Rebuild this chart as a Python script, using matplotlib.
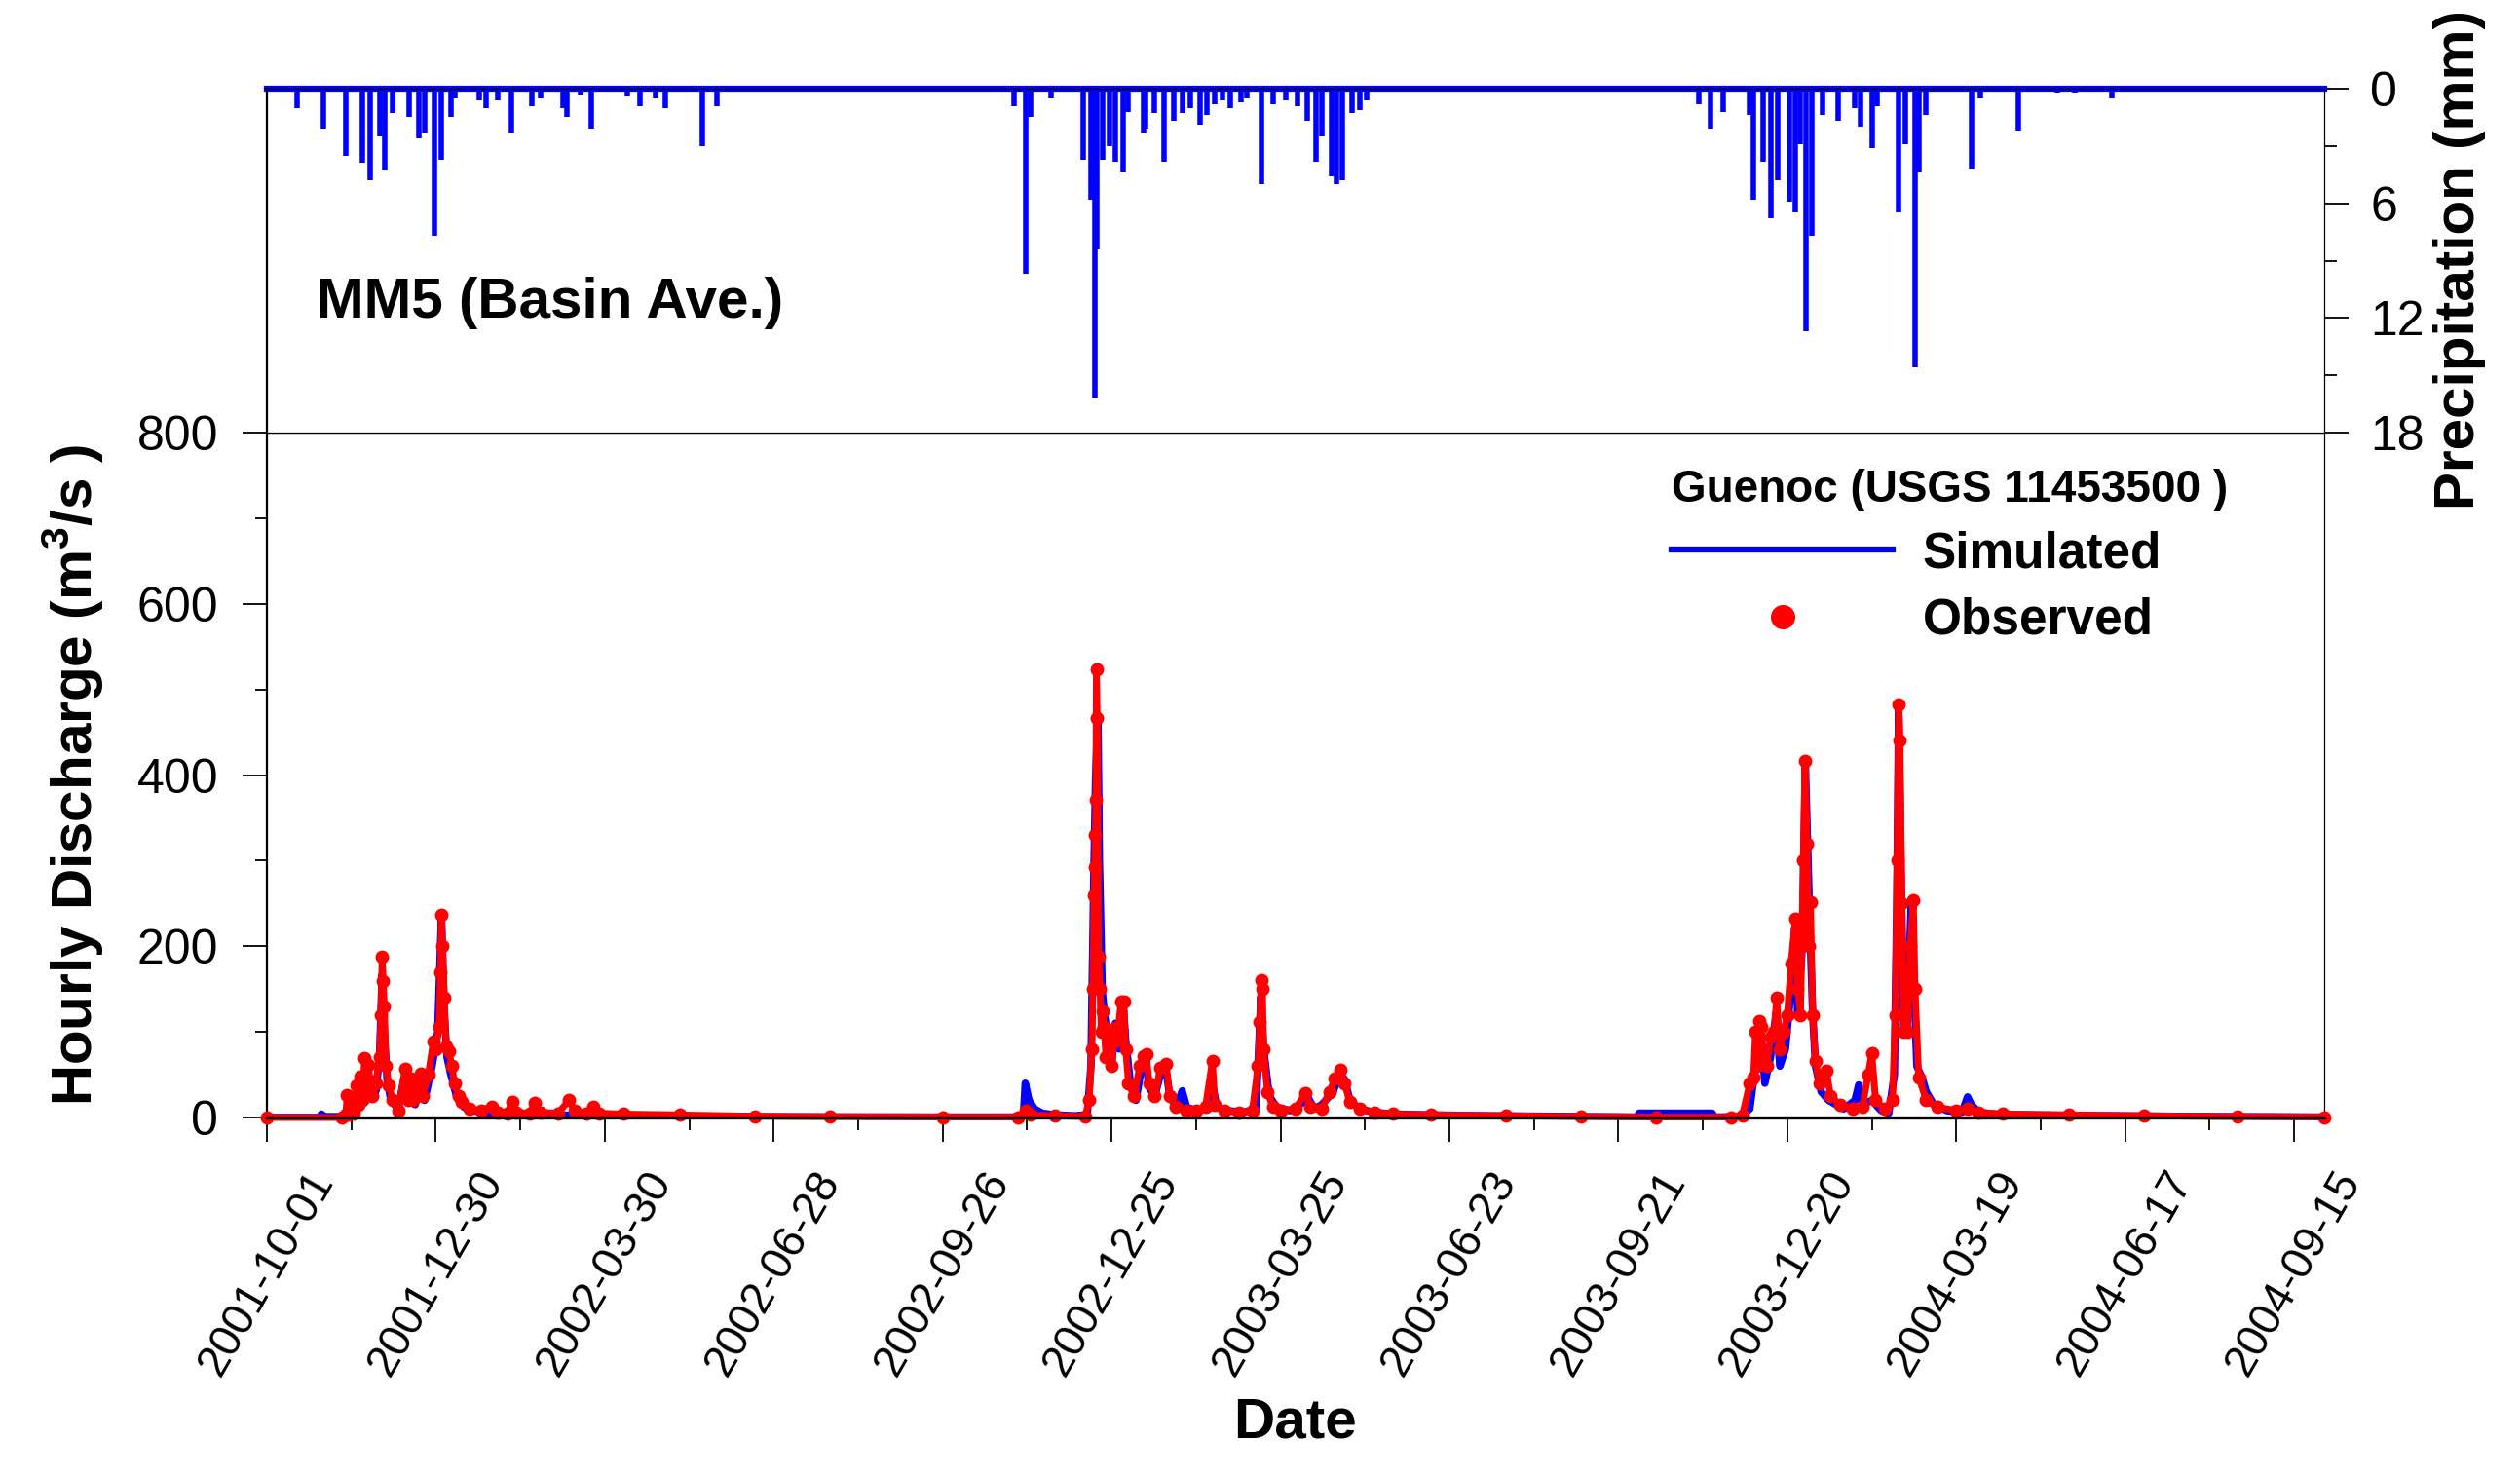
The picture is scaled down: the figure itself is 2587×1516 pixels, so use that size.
import numpy as np
import pandas as pd
import matplotlib
matplotlib.use('Agg')
import matplotlib.pyplot as plt
from matplotlib.lines import Line2D
from matplotlib.ticker import MultipleLocator

plt.rcParams['font.family'] = ['Liberation Sans', 'DejaVu Sans']
plt.rcParams['mathtext.fontset'] = 'custom'
plt.rcParams['mathtext.rm'] = 'Liberation Sans'
plt.rcParams['mathtext.bf'] = 'Liberation Sans:bold'

# Data, days counted from 2001-10-01
start = pd.Timestamp('2001-10-01')
end_day = 1096

date_ticks = ['2001-10-01', '2001-12-30', '2002-03-30', '2002-06-28', '2002-09-26',
              '2002-12-25', '2003-03-25', '2003-06-23', '2003-09-21', '2003-12-20',
              '2004-03-19', '2004-06-17', '2004-09-15']

# basin average MM5 precipitation spikes
precip_day = [16, 30, 42, 51, 55, 60, 63, 67, 76, 81, 84, 89, 93, 98, 100, 113, 117, 123,
              130, 141, 146, 158, 160, 167, 173, 192, 199, 207, 212, 232, 240,
              398, 404, 407, 418, 435, 439, 441, 442, 445, 449, 452, 456, 459, 467, 468,
              473, 478, 483, 488, 492, 497, 501, 505, 509, 513, 519, 522, 530, 536, 543,
              549, 554, 559, 562, 567, 570, 573, 578, 582, 586,
              690, 763, 769, 776, 790, 792, 797, 801, 805, 811, 814, 817, 820, 823, 829,
              837, 846, 849, 855, 858, 869, 873, 878, 880, 884, 908, 913, 933, 954, 963, 983]
precip_mm = [1.0, 2.1, 3.5, 3.9, 4.8, 2.5, 4.3, 1.3, 1.5, 2.6, 2.3, 7.7, 3.7, 1.5, 0.5, 0.6, 1.0, 0.6,
             2.3, 0.9, 0.5, 1.0, 1.5, 0.3, 2.1, 0.4, 0.9, 0.5, 1.0, 3.0, 0.9,
             0.9, 9.7, 1.5, 0.5, 3.7, 5.8, 16.2, 8.4, 3.7, 3.0, 3.8, 4.4, 1.2, 2.3, 2.1,
             1.3, 3.8, 1.7, 1.3, 1.0, 1.9, 1.4, 0.8, 0.6, 1.0, 0.7, 0.5, 5.0, 0.8, 0.6,
             0.9, 1.7, 3.8, 2.5, 4.6, 5.0, 4.8, 1.3, 1.1, 0.6,
             0.1, 0.8, 2.1, 1.2, 1.4, 5.8, 3.8, 6.8, 4.8, 5.9, 6.5, 2.9, 12.7, 7.7, 1.4,
             1.7, 1.0, 2.0, 3.1, 0.9, 6.5, 2.9, 14.6, 4.4, 1.4, 4.2, 0.5, 2.2, 0.2, 0.2, 0.5]

# simulated hourly discharge (m3/s)
sim_day = [0, 28, 29, 31, 40, 43, 46, 50, 53, 56, 58, 60, 61.4, 62.5, 64, 66, 70, 73, 75, 79,
           82, 84, 88, 91, 93, 94.5, 96, 98, 101, 105, 110, 115, 120, 130, 150, 180, 230, 300,
           397, 403, 404, 406, 409, 413, 420, 430, 437, 439, 440.5, 441.5, 442.7, 443.5, 445,
           446, 448, 450, 452, 454, 456, 457.5, 460, 463, 466, 468, 470, 473, 476, 479, 481,
           485, 487.6, 490, 495, 500, 503.7, 506, 512, 520, 527, 529.5, 531, 534, 538, 545,
           555, 558, 562, 568, 571.5, 574, 577, 582, 590, 600, 620, 650, 700, 730,
           731, 770, 771, 785, 790, 793, 796, 798, 801, 804, 806, 809, 812, 814, 815.5, 818,
           819.6, 821, 822, 823.5, 825, 828, 832, 836, 840, 846, 848, 850, 855, 860, 864, 867,
           868.3, 869.3, 870.5, 872, 874, 876, 877.5, 879, 882, 884, 888, 895, 903, 906, 908,
           912, 920, 940, 980, 1040, 1096]
sim_q = [0, 0, 4, 1, 1, 8, 15, 35, 20, 45, 30, 70, 167, 100, 45, 20, 10, 45, 20, 15,
         45, 20, 60, 100, 234, 120, 70, 50, 25, 12, 8, 6, 5, 4, 3, 2, 1, 0.5,
         0.5, 2, 40, 20, 10, 5, 3, 2, 3, 60, 280, 400, 470, 300, 147,
         125, 90, 60, 110, 80, 138, 90, 40, 20, 60, 70, 35, 25, 50, 55, 25,
         15, 31, 12, 8, 10, 40, 12, 8, 6, 10, 141, 80, 25, 12, 8,
         22, 10, 15, 30, 51, 45, 20, 10, 6, 4, 3, 2, 1, 0.5,
         5, 5, 0.5, 1, 10, 60, 100, 40, 70, 122, 60, 80, 150, 222, 120, 200,
         411, 300, 224, 120, 60, 30, 20, 15, 10, 20, 38, 15, 20, 8, 5, 50,
         250, 485, 300, 100, 120, 251, 150, 60, 45, 30, 15, 8, 6, 24, 15,
         6, 4, 3, 2, 1, 0.5]

# observed hourly discharge, USGS 11453500 (m3/s)
obs_day = [0, 40, 42, 42.8, 43.5, 46, 48, 49, 50, 51, 52, 53, 54, 56, 58, 60, 60.8, 61.4, 62,
           62.5, 63.5, 65, 67, 70, 73.6, 75, 77, 78, 81.8, 83, 86, 88.7, 90, 91.7, 92.5, 93,
           93.6, 94.5, 95.5, 97, 98.5, 100, 102, 104, 108, 114, 120, 123, 128, 130.7, 133,
           140, 142.8, 146, 155, 161, 164, 170, 174, 177, 190, 220, 260, 300, 360,
           400, 404, 407, 420, 436, 438, 439.5, 440, 440.6, 441, 441.3, 441.6, 441.9, 442.3,
           443, 443.8, 444.5, 445, 446, 447, 448.5, 450, 452, 453, 455, 456.5, 457.5, 459,
           462, 465, 467, 468.5, 470, 473, 476, 479, 481, 484, 490, 495, 500, 503.7, 505,
           510, 518, 525, 528, 529, 529.7, 530.3, 531, 533, 536, 540, 548, 553, 556, 562,
           566, 569, 571.7, 574, 577, 582, 590, 600, 620, 660, 700, 740,
           780, 786, 790, 792, 793, 794, 795, 796.2, 797, 799, 801, 803, 804.3, 806, 808, 810,
           812, 814.3, 815.5, 817, 818.5, 819.4, 820.5, 821.3, 822.3, 823.5, 825, 827, 830.8,
           833, 838, 845, 850, 853, 855, 857, 862, 866, 867.5, 868.5, 869.3, 870, 871, 872,
           874, 875.5, 877.1, 878, 880, 884, 890, 900, 906, 912, 925, 960, 1000, 1050, 1096]
obs_q = [0, 0, 3, 26, 3, 5, 37, 15, 48, 20, 69, 30, 61, 25, 40, 70, 120, 188, 159,
         130, 60, 37, 20, 8, 57, 20, 45, 20, 51, 25, 50, 89, 80, 106, 170, 237,
         200, 140, 83, 77, 60, 40, 25, 18, 10, 8, 13, 6, 5, 18, 6,
         5, 17, 6, 5, 20, 8, 5, 13, 5, 4, 3, 1.5, 1, 0.5,
         0.5, 8, 3, 2, 1, 20, 80, 150, 260, 292, 330, 371, 523, 467,
         188, 150, 100, 124, 106, 70, 100, 60, 105, 90, 135, 135, 80, 40,
         25, 60, 72, 74, 40, 25, 58, 63, 25, 12, 8, 8, 12, 66, 15,
         8, 6, 8, 60, 112, 161, 150, 80, 30, 12, 8, 10, 28, 12, 10,
         30, 45, 56, 40, 18, 10, 6, 4, 3, 2, 1, 0.5,
         0.5, 2, 40, 47, 100, 60, 113, 106, 70, 60, 94, 100, 140, 80, 100, 120,
         180, 232, 150, 120, 300, 417, 320, 200, 251, 120, 66, 40, 55,
         25, 15, 10, 12, 50, 75, 20, 10, 20, 120, 300, 483, 440, 250, 100,
         100, 200, 254, 150, 47, 20, 12, 8, 10, 6, 4, 3, 2, 1, 0.5]


def to_dates(days):
    return start + pd.to_timedelta(np.asarray(days, dtype=float), unit='D')


W, H = 2587, 1516
fig = plt.figure(figsize=(W / 100, H / 100), dpi=100)
x0, x1 = 274 / W, 2386 / W
ax_q = fig.add_axes([x0, 1 - 1147 / H, x1 - x0, (1147 - 444) / H])
ax_p = fig.add_axes([x0, 1 - 444 / H, x1 - x0, (444 - 91) / H], sharex=ax_q)

# discharge panel
ax_q.plot(to_dates(sim_day), sim_q, color='#0000FF', lw=5.5, zorder=2)
ax_q.plot(to_dates(obs_day), obs_q, color='#FF0000', lw=5, marker='o', ms=9,
          solid_joinstyle='round', solid_capstyle='round', clip_on=False, zorder=3)
ax_q.set_ylim(0, 800)
ax_q.set_xlim(start, start + pd.Timedelta(days=end_day))
ax_q.yaxis.set_major_locator(MultipleLocator(200))
ax_q.yaxis.set_minor_locator(MultipleLocator(100))
ax_q.set_xticks(pd.to_datetime(date_ticks))
ax_q.set_xticklabels(date_ticks, rotation=60, fontsize=33)
ax_q.set_xticks(pd.to_datetime(date_ticks[:-1]) + pd.Timedelta(days=45), minor=True)
ax_q.tick_params(axis='both', which='both', direction='out', width=1.3)
ax_q.tick_params(axis='both', which='major', length=18)
ax_q.tick_params(axis='both', which='minor', length=9)
ax_q.tick_params(axis='y', labelsize=36, pad=18)
ax_q.tick_params(axis='x', pad=16)
ax_q.tick_params(axis='y', which='both', right=False)
for s, w in [('left', 1.6), ('bottom', 2.4), ('top', 0.9), ('right', 0.9)]:
    ax_q.spines[s].set_linewidth(w)
ax_q.spines['bottom'].set_zorder(10)

# precipitation panel (inverted, right axis)
ax_p.axhline(0, color='#0000FF', lw=4.5, zorder=2, clip_on=False)
ax_p.vlines(to_dates(precip_day), 0, precip_mm, color='#0000FF', lw=4, zorder=2)
ax_p.set_ylim(18, 0)
ax_p.yaxis.tick_right()
ax_p.yaxis.set_major_locator(MultipleLocator(6))
ax_p.yaxis.set_minor_locator(MultipleLocator(3))
ax_p.tick_params(axis='x', which='both', bottom=False, labelbottom=False)
ax_p.tick_params(axis='y', which='both', direction='out', width=1.3, left=False)
ax_p.tick_params(axis='y', which='major', length=18, labelsize=36, pad=16)
ax_p.tick_params(axis='y', which='minor', length=9)
for s, w in [('left', 1.6), ('bottom', 0.9), ('top', 1.0), ('right', 0.9)]:
    ax_p.spines[s].set_linewidth(w)
ax_p.text(0.024, 0.334, 'MM5 (Basin Ave.)', transform=ax_p.transAxes,
          fontsize=42, fontweight='bold', va='baseline')

# axis titles
fig.text(75 / W, 1 - 795 / H, r'Hourly Discharge (m$^{\mathbf{3}}$/s )', rotation=90,
         fontsize=42, fontweight='bold', ha='center', va='center')
fig.text(2525 / W, 1 - 267 / H, 'Precipitation (mm)', rotation=90,
         fontsize=42, fontweight='bold', ha='center', va='center')
fig.text(1330 / W, 1 - 1460 / H, 'Date', fontsize=42, fontweight='bold',
         ha='center', va='center')

# legend
handles = [Line2D([], [], color='#0000FF', lw=4.5),
           Line2D([], [], color='#FF0000', ls='none', marker='o', ms=17)]
leg = ax_q.legend(handles, ['Simulated', 'Observed'], title='Guenoc (USGS 11453500 )',
                  loc='upper left', bbox_to_anchor=(0.683, 0.948), frameon=False,
                  prop={'weight': 'bold', 'size': 37},
                  title_fontproperties={'weight': 'bold', 'size': 33},
                  handlelength=4.4, handletextpad=0.6, labelspacing=0.38,
                  borderpad=0, borderaxespad=0)
leg._legend_box.align = 'left'

fig.savefig('out.png', dpi=100)
